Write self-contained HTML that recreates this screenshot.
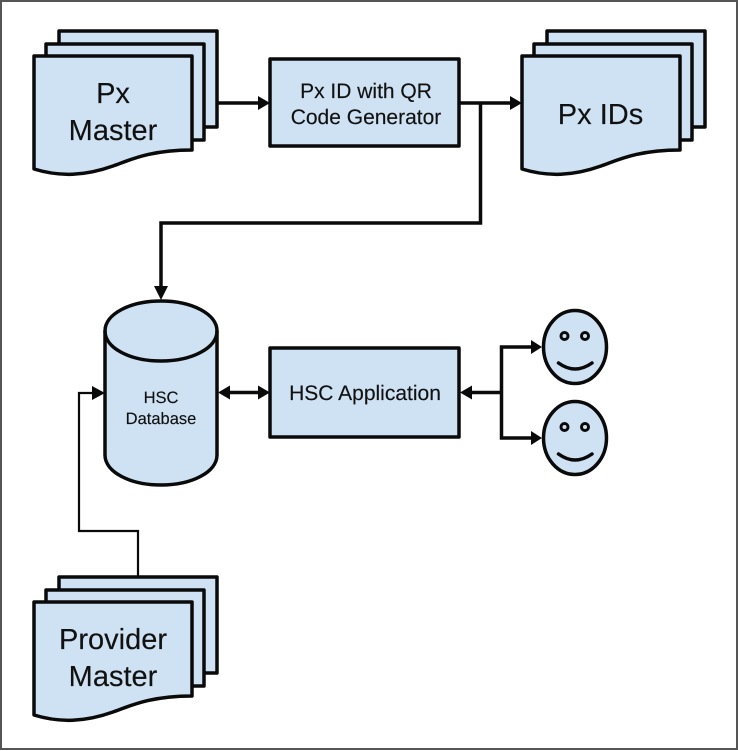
<!DOCTYPE html>
<html>
<head>
<meta charset="utf-8">
<style>
html,body{margin:0;padding:0;background:#fff;width:738px;height:751px;overflow:hidden}
svg{display:block;filter:blur(.35px)}
text{font-family:"Liberation Sans",sans-serif;fill:#111;stroke:#111;stroke-width:.15;text-anchor:middle;text-rendering:geometricPrecision}
.s{fill:#cfe2f3;stroke:#0a0a0a;stroke-width:3.500;stroke-linejoin:round}
.l{fill:none;stroke:#0a0a0a;stroke-width:3.500;stroke-linejoin:miter}
.t{fill:none;stroke:#0a0a0a;stroke-width:2.200;stroke-linejoin:miter}
.h{fill:#0a0a0a;stroke:none}
.e{fill:none;stroke:#0a0a0a;stroke-width:3}
</style>
</head>
<body>
<svg width="738" height="751" viewBox="0 0 738 751" xmlns="http://www.w3.org/2000/svg">
<defs>
<g id="stack">
<rect class="s" x="59" y="31" width="158" height="96"/>
<rect class="s" x="46" y="44" width="158" height="96"/>
<path class="s" d="M34 56H192V150C150 150 130 160 113 166C85 176 60 177 34 169Z"/>
</g>
</defs>
<rect x="1" y="1" width="736" height="748" fill="#fff" stroke="#555" stroke-width="2"/>

<!-- Connectors -->
<path class="l" d="M217 103H260"/>
<path class="h" d="M270 103L258 96V110Z"/>
<path class="l" d="M459 103H512"/>
<path class="h" d="M522 103L510 96V110Z"/>
<path class="l" d="M480.500 103V223H161V290"/>
<path class="h" d="M161 300L154 286H168Z"/>
<path class="l" d="M228 392.500H260"/>
<path class="h" d="M218 392.500L230 385.500V399.500Z"/>
<path class="h" d="M270 392.500L258 385.500V399.500Z"/>
<path class="l" d="M470 392.500H501.500"/>
<path class="h" d="M460 392.500L472 385.500V399.500Z"/>
<path class="l" d="M532 347H501.500V438H532"/>
<path class="h" d="M542 347L531 340V354Z"/>
<path class="h" d="M542 438L531 431V445Z"/>
<path class="t" d="M138 577V531H79V393H96"/>
<path class="h" d="M105 393L92 386V400Z"/>

<!-- Document stacks -->
<use href="#stack"/>
<use href="#stack" x="488"/>
<use href="#stack" y="546"/>

<!-- Process boxes -->
<rect class="s" x="270" y="59" width="189" height="87"/>
<rect class="s" x="270" y="348" width="189" height="89"/>

<!-- Database -->
<path class="s" d="M105 331C105 314 130 301 161 301C192 301 217 314 217 331V455C217 472 192 485 161 485C130 485 105 472 105 455Z"/>
<path class="l" d="M105 331C105 348 130 361 161 361C192 361 217 348 217 331"/>

<!-- Faces -->
<ellipse class="s" cx="575" cy="347" rx="31.500" ry="36.500"/>
<circle class="e" cx="564.500" cy="336" r="3.500"/>
<circle class="e" cx="585" cy="336" r="3.500"/>
<path class="l" d="M558.500 363Q575 375 592 363" stroke-linecap="round"/>
<ellipse class="s" cx="575" cy="438" rx="31.500" ry="36.500"/>
<circle class="e" cx="564.500" cy="427" r="3.500"/>
<circle class="e" cx="585" cy="427" r="3.500"/>
<path class="l" d="M558.500 454Q575 466 592 454" stroke-linecap="round"/>

<!-- Labels -->
<text x="113" y="103" font-size="29">Px</text>
<text x="113" y="140" font-size="29">Master</text>
<text x="366" y="98" font-size="21">Px ID with QR</text>
<text x="366" y="124" font-size="21">Code Generator</text>
<text x="600.500" y="124" font-size="29">Px IDs</text>
<text x="161" y="403" font-size="16.500">HSC</text>
<text x="161" y="424" font-size="16.500">Database</text>
<text x="365" y="400" font-size="21">HSC Application</text>
<text x="113" y="649" font-size="29">Provider</text>
<text x="113" y="686" font-size="29">Master</text>
</svg>
</body>
</html>
